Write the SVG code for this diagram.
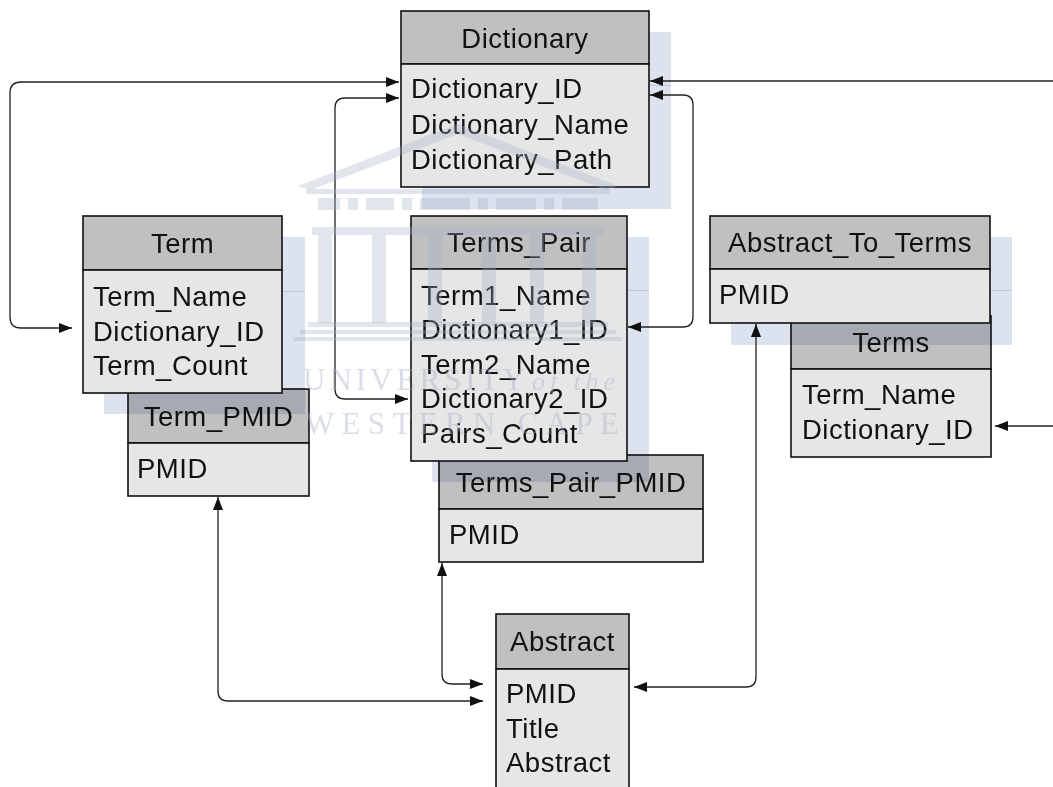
<svg xmlns="http://www.w3.org/2000/svg" width="1053" height="787" viewBox="0 0 1053 787">
<defs>
<style>
.hd{fill:#c0c0c0;stroke:#111;stroke-width:1.6}
.bd{fill:#e6e6e6;stroke:#111;stroke-width:1.6}
.t{font-family:"Liberation Sans",Arial,sans-serif;font-size:27.5px;letter-spacing:0.5px;fill:#111}
.c{text-anchor:middle}
.sh{fill:#dce2ee;mix-blend-mode:multiply}
.shl{stroke:#bcc8de;stroke-width:1}
.cn{fill:none;stroke:#222;stroke-width:1.3}
.wm{fill:#a3aec4;opacity:0.32}
.wmt{font-family:"Liberation Serif","Times New Roman",serif;fill:#a3aec4;opacity:0.4}
</style>
<marker id="arr" viewBox="0 0 13 10" refX="13" refY="5" markerWidth="13" markerHeight="10" markerUnits="userSpaceOnUse" orient="auto-start-reverse">
<path d="M0,0 L13,5 L0,10 z" fill="#111"/>
</marker>
</defs>
<rect width="1053" height="787" fill="#fff"/>

<g id="term_pmid">
<rect class="hd" x="128" y="389" width="181" height="54"/>
<rect class="bd" x="128" y="443" width="181" height="53"/>
<text class="t c" x="218.5" y="426">Term_PMID</text>
<text class="t" x="137" y="478">PMID</text>
</g>
<g id="terms_pair_pmid">
<rect class="hd" x="439" y="455" width="264" height="54"/>
<rect class="bd" x="439" y="509" width="264" height="53"/>
<text class="t c" x="571" y="492">Terms_Pair_PMID</text>
<text class="t" x="449" y="544">PMID</text>
</g>
<g id="terms">
<rect class="hd" x="791" y="316" width="200" height="53"/>
<rect class="bd" x="791" y="369" width="200" height="88"/>
<text class="t c" x="891" y="352">Terms</text>
<text class="t" x="802" y="404">Term_Name</text>
<text class="t" x="802" y="439">Dictionary_ID</text>
</g>
<g id="abstract">
<rect class="hd" x="496" y="614" width="133" height="55"/>
<rect class="bd" x="496" y="669" width="133" height="140"/>
<text class="t c" x="562.5" y="651">Abstract</text>
<text class="t" x="506" y="703">PMID</text>
<text class="t" x="506" y="738">Title</text>
<text class="t" x="506" y="772">Abstract</text>
</g>

<g id="shadows">
<rect class="sh" x="422" y="32" width="249" height="177"/>
<line class="shl" x1="422" y1="85.5" x2="671" y2="85.5"/>
<rect class="sh" x="104" y="237" width="201" height="177"/>
<line class="shl" x1="104" y1="291.5" x2="305" y2="291.5"/>
<rect class="sh" x="432" y="237" width="217" height="245"/>
<line class="shl" x1="432" y1="290.5" x2="649" y2="290.5"/>
<rect class="sh" x="731" y="237" width="281" height="108"/>
<line class="shl" x1="731" y1="290.5" x2="1012" y2="290.5"/>
</g>

<g id="dictionary">
<rect class="hd" x="401" y="11" width="248" height="53"/>
<rect class="bd" x="401" y="64" width="248" height="123"/>
<text class="t c" x="525" y="48">Dictionary</text>
<text class="t" x="411" y="98">Dictionary_ID</text>
<text class="t" x="411" y="134">Dictionary_Name</text>
<text class="t" x="411" y="169">Dictionary_Path</text>
</g>
<g id="term">
<rect class="hd" x="83" y="216" width="199" height="54"/>
<rect class="bd" x="83" y="270" width="199" height="123"/>
<text class="t c" x="182.5" y="253">Term</text>
<text class="t" x="93" y="306">Term_Name</text>
<text class="t" x="93" y="341">Dictionary_ID</text>
<text class="t" x="93" y="375">Term_Count</text>
</g>
<g id="terms_pair">
<rect class="hd" x="411" y="216" width="216" height="53"/>
<rect class="bd" x="411" y="269" width="216" height="192"/>
<text class="t c" x="519" y="252">Terms_Pair</text>
<text class="t" x="421" y="305">Term1_Name</text>
<text class="t" x="421" y="339">Dictionary1_ID</text>
<text class="t" x="421" y="374">Term2_Name</text>
<text class="t" x="421" y="408">Dictionary2_ID</text>
<text class="t" x="421" y="443">Pairs_Count</text>
</g>
<g id="abstract_to_terms">
<rect class="hd" x="710" y="216" width="280" height="53"/>
<rect class="bd" x="710" y="269" width="280" height="54"/>
<text class="t c" x="850" y="252">Abstract_To_Terms</text>
<text class="t" x="719" y="304">PMID</text>
</g>

<g id="connectors">
<path class="cn" marker-start="url(#arr)" marker-end="url(#arr)" d="M72,328 H21 Q10,328 10,317 V93 Q10,82 21,82 H399"/>
<path class="cn" marker-start="url(#arr)" marker-end="url(#arr)" d="M408,399 H345 Q335,399 335,389 V108 Q335,98 345,98 H399"/>
<path class="cn" marker-end="url(#arr)" d="M1053,81 H650"/>
<path class="cn" marker-start="url(#arr)" marker-end="url(#arr)" d="M650,95 H683 Q693,95 693,105 V317 Q693,327 683,327 H628"/>
<path class="cn" marker-end="url(#arr)" d="M1053,426 H995"/>
<path class="cn" marker-start="url(#arr)" marker-end="url(#arr)" d="M218,497 V691 Q218,701 228,701 H483"/>
<path class="cn" marker-start="url(#arr)" marker-end="url(#arr)" d="M442,563 V674 Q442,684 452,684 H483"/>
<path class="cn" marker-start="url(#arr)" marker-end="url(#arr)" d="M756,324 V677 Q756,687 746,687 H634"/>
</g>

<g id="watermark">
<polygon class="wm" points="298,186 458,124 618,186 606,190 458,134 310,190"/>
<rect class="wm" x="306" y="189" width="304" height="5"/>
<rect class="wm" x="318" y="198" width="22" height="12"/>
<rect class="wm" x="348" y="198" width="10" height="12"/>
<rect class="wm" x="366" y="198" width="28" height="12"/>
<rect class="wm" x="402" y="198" width="10" height="12"/>
<rect class="wm" x="420" y="198" width="50" height="12"/>
<rect class="wm" x="478" y="198" width="10" height="12"/>
<rect class="wm" x="496" y="198" width="40" height="12"/>
<rect class="wm" x="544" y="198" width="10" height="12"/>
<rect class="wm" x="562" y="198" width="36" height="12"/>
<rect class="wm" x="312" y="227" width="292" height="8"/>
<rect class="wm" x="318" y="235" width="14" height="88"/>
<rect class="wm" x="372" y="235" width="14" height="88"/>
<rect class="wm" x="428" y="235" width="14" height="88"/>
<rect class="wm" x="482" y="235" width="14" height="88"/>
<rect class="wm" x="530" y="235" width="14" height="88"/>
<rect class="wm" x="582" y="235" width="14" height="88"/>
<rect class="wm" x="308" y="322" width="300" height="5"/>
<rect class="wm" x="300" y="330" width="316" height="4"/>
<rect class="wm" x="294" y="337" width="328" height="4"/>
<text class="wmt" x="303" y="390" font-size="31" textLength="222" lengthAdjust="spacing">UNIVERSITY</text>
<text class="wmt" x="532" y="390" font-size="26" font-style="italic" textLength="83" lengthAdjust="spacing">of the</text>
<text class="wmt" x="305" y="434" font-size="31" textLength="314" lengthAdjust="spacing">WESTERN CAPE</text>
</g>
</svg>
